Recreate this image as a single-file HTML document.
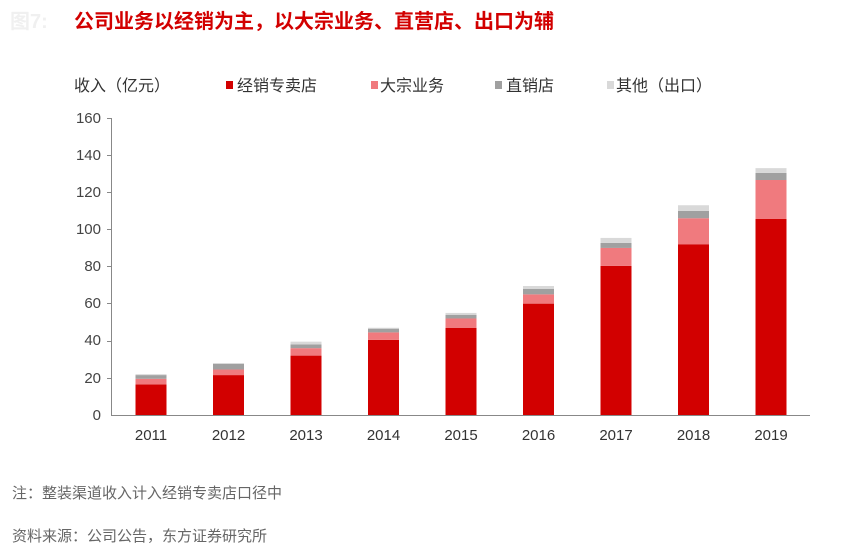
<!DOCTYPE html>
<html><head><meta charset="utf-8"><style>
body{margin:0;background:#fff;}
svg{display:block;font-family:"Liberation Sans","Noto Sans CJK SC",sans-serif;}
</style></head><body>
<svg width="864" height="550" viewBox="0 0 864 550">
<text x="10" y="28" font-size="20" fill="#f0f0f0" font-weight="bold">图7:</text>
<text x="74" y="28" font-size="20" fill="#d20000" font-weight="bold">公司业务以经销为主，以大宗业务、直营店、出口为辅</text>
<text x="74" y="91" font-size="16" fill="#333">收入（亿元）</text>
<rect x="226" y="81" width="7" height="8" fill="#d20000"/><text x="237" y="91" font-size="16" fill="#333">经销专卖店</text>
<rect x="371" y="81" width="7" height="8" fill="#f07a7e"/><text x="380" y="91" font-size="16" fill="#333">大宗业务</text>
<rect x="495" y="81" width="7" height="8" fill="#a0a0a0"/><text x="506" y="91" font-size="16" fill="#333">直销店</text>
<rect x="607" y="81" width="7" height="8" fill="#d9d9d9"/><text x="616" y="91" font-size="16" fill="#333">其他（出口）</text>
<g font-size="15" fill="#444" text-anchor="end">
<text x="101" y="123">160</text><text x="101" y="160">140</text><text x="101" y="197">120</text><text x="101" y="234">100</text>
<text x="101" y="271">80</text><text x="101" y="308">60</text><text x="101" y="345">40</text><text x="101" y="383">20</text><text x="101" y="420">0</text>
</g>
<line x1="111.5" y1="118" x2="111.5" y2="415" stroke="#888"/>
<line x1="111" y1="415.5" x2="810" y2="415.5" stroke="#888"/>
<g stroke="#888"><line x1="107" y1="118.5" x2="111" y2="118.5"/><line x1="107" y1="155.5" x2="111" y2="155.5"/><line x1="107" y1="192.5" x2="111" y2="192.5"/><line x1="107" y1="229.5" x2="111" y2="229.5"/><line x1="107" y1="266.5" x2="111" y2="266.5"/><line x1="107" y1="303.5" x2="111" y2="303.5"/><line x1="107" y1="341.5" x2="111" y2="341.5"/><line x1="107" y1="378.5" x2="111" y2="378.5"/></g>
<g id="bars"></g>
<g font-size="15" fill="#333" text-anchor="middle" id="xl"></g>
<text x="12" y="498" font-size="15" fill="#666">注：整装渠道收入计入经销专卖店口径中</text>
<text x="12" y="541" font-size="15" fill="#666">资料来源：公司公告，东方证券研究所</text>
<script>
var d=[[2011,16.5,3,2,0.5],[2012,21.5,3,3,0.5],[2013,32,4,2,1.5],[2014,40.5,4,2,0.5],[2015,47,5,2,1],[2016,60,5,3,1.5],[2017,80.3,9.7,2.7,2.7],[2018,92,14,4,3],[2019,105.6,21,3.8,2.6]];
var c=["#d20000","#f07a7e","#a0a0a0","#d9d9d9"],s=297/160,ns="http://www.w3.org/2000/svg",g=document.getElementById("bars"),xl=document.getElementById("xl");
d.forEach(function(r,i){var cx=151+i*77.5,b=0;for(var k=0;k<4;k++){var h=r[k+1]*s,e=document.createElementNS(ns,"rect");e.setAttribute("x",cx-15.5);e.setAttribute("width",31);e.setAttribute("y",415-b-h);e.setAttribute("height",h);e.setAttribute("fill",c[k]);g.appendChild(e);b+=h;}
var t=document.createElementNS(ns,"text");t.setAttribute("x",cx);t.setAttribute("y",440);t.textContent=r[0];xl.appendChild(t);});
</script>
</svg>
</body></html>
